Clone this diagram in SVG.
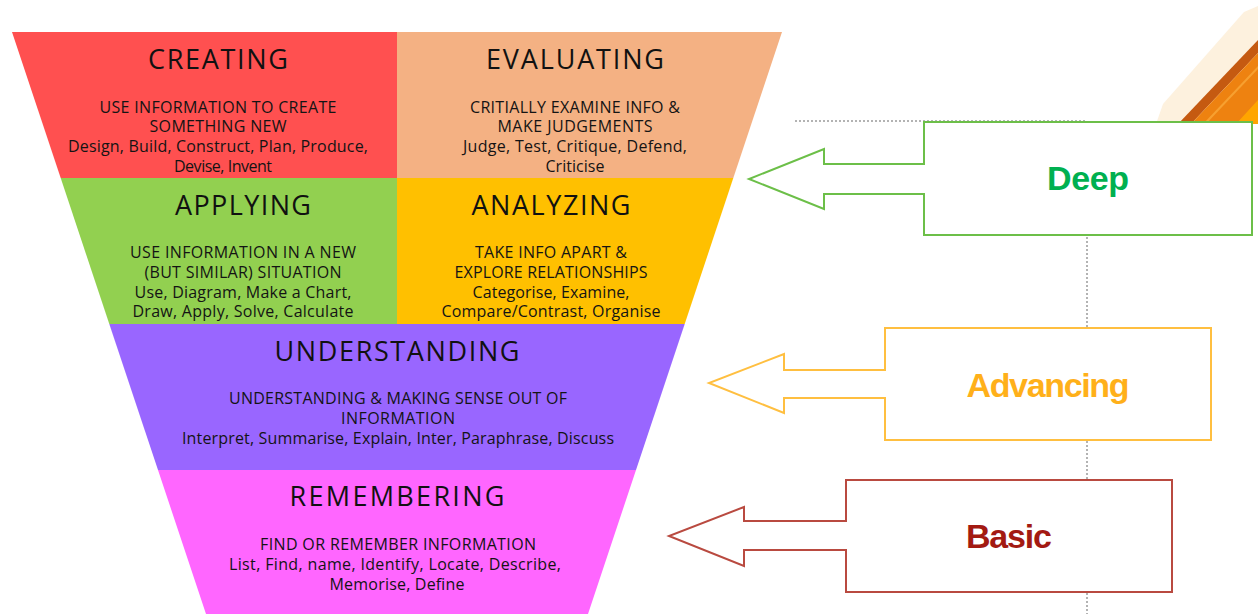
<svg xmlns="http://www.w3.org/2000/svg" width="1258" height="614" viewBox="0 0 1258 614">
  <style>
    .title { font-family: "Open Sans", "Liberation Sans", Arial, sans-serif; font-size: 27px; fill: #111111; text-anchor: middle; }
    .body { font-family: "Open Sans", "Liberation Sans", Arial, sans-serif; font-size: 16px; fill: #141414; text-anchor: middle; }
    .level { font-family: "Liberation Sans", Arial, sans-serif; font-size: 34px; font-weight: bold; text-anchor: middle; }
    .guide { fill: none; stroke: #9a9a9a; stroke-width: 1.5; stroke-dasharray: 2 2; }
    .callout { fill: #ffffff; stroke-width: 2; stroke-linejoin: miter; }
  </style>

  <rect width="1258" height="614" fill="#ffffff"/>

  <!-- pencil ornament, top right corner -->
  <g id="pencil">
    <polygon points="1156,124 1163,104 1244,12 1258,6 1258,40 1180,124" fill="#FDF1DE"/>
    <polygon points="1178,124 1258,40 1258,53 1191,124" fill="#C55A11"/>
    <polygon points="1191,124 1258,53 1258,124" fill="#EE8210"/>
    <polygon points="1203,124 1258,66 1258,69 1206,124" fill="#F7A030"/>
    <polygon points="1236,124 1258,100 1258,124" fill="#FFA500"/>
  </g>

  <!-- dotted guide lines -->
  <g id="connectors">
    <path class="guide" d="M795,121 H1087 V614"/>
  </g>

  <!-- funnel levels -->
  <g id="creating">
    <polygon points="12,32 397,32 397,178 60.7,178" fill="#FF5050"/>
    <text class="title" x="218" y="68.5" textLength="140">CREATING</text>
    <text class="body" x="218" y="112.5" textLength="237">USE INFORMATION TO CREATE</text>
    <text class="body" x="218" y="132" textLength="137">SOMETHING NEW</text>
    <text class="body" x="218" y="152" textLength="300">Design, Build, Construct, Plan, Produce,</text>
    <text class="body" x="223" y="171.5" textLength="98">Devise, Invent</text>
  </g>

  <g id="evaluating">
    <polygon points="397,32 782,32 733.3,178 397,178" fill="#F4B183"/>
    <text class="title" x="575" y="68.5" textLength="178">EVALUATING</text>
    <text class="body" x="575" y="112.5" textLength="210">CRITIALLY EXAMINE INFO &amp;</text>
    <text class="body" x="575" y="132" textLength="155">MAKE JUDGEMENTS</text>
    <text class="body" x="575" y="152" textLength="224">Judge, Test, Critique, Defend,</text>
    <text class="body" x="575" y="171.5" textLength="59">Criticise</text>
  </g>

  <g id="applying">
    <polygon points="60.7,178 397,178 397,324 109.3,324" fill="#92D050"/>
    <text class="title" x="243" y="214.5" textLength="136">APPLYING</text>
    <text class="body" x="243" y="258" textLength="226">USE INFORMATION IN A NEW</text>
    <text class="body" x="243" y="277.5" textLength="197">(BUT SIMILAR) SITUATION</text>
    <text class="body" x="243" y="297.5" textLength="217">Use, Diagram, Make a Chart,</text>
    <text class="body" x="243" y="317" textLength="221">Draw, Apply, Solve, Calculate</text>
  </g>

  <g id="analyzing">
    <polygon points="397,178 733.3,178 684.7,324 397,324" fill="#FFC000"/>
    <text class="title" x="551" y="214.5" textLength="159">ANALYZING</text>
    <text class="body" x="551" y="258" textLength="152">TAKE INFO APART &amp;</text>
    <text class="body" x="551" y="277.5" textLength="193">EXPLORE RELATIONSHIPS</text>
    <text class="body" x="551" y="297.5" textLength="157">Categorise, Examine,</text>
    <text class="body" x="551" y="317" textLength="219">Compare/Contrast, Organise</text>
  </g>

  <g id="understanding">
    <polygon points="109.3,324 684.7,324 636,470 158,470" fill="#9966FF"/>
    <text class="title" x="397" y="361" textLength="245">UNDERSTANDING</text>
    <text class="body" x="398" y="404" textLength="338">UNDERSTANDING &amp; MAKING SENSE OUT OF</text>
    <text class="body" x="398" y="423.5" textLength="114">INFORMATION</text>
    <text class="body" x="398" y="444" textLength="432">Interpret, Summarise, Explain, Inter, Paraphrase, Discuss</text>
  </g>

  <g id="remembering">
    <polygon points="158,470 636,470 588,614 206,614" fill="#FF66FF"/>
    <text class="title" x="397" y="506" textLength="215">REMEMBERING</text>
    <text class="body" x="398" y="550" textLength="276">FIND OR REMEMBER INFORMATION</text>
    <text class="body" x="395" y="570" textLength="332">List, Find, name, Identify, Locate, Describe,</text>
    <text class="body" x="397" y="590" textLength="135">Memorise, Define</text>
  </g>

  <!-- depth callouts pointing back at the funnel -->
  <g id="deep">
    <path class="callout" stroke="#6CBF48" d="M924,122 H1252 V235 H924 V194 H824 V209 L749,179 L824,149 V164 H924 Z"/>
    <text class="level" x="1088" y="190" fill="#00B050" textLength="82">Deep</text>
  </g>

  <g id="advancing">
    <path class="callout" stroke="#FFBF40" d="M885,328 H1211 V440 H885 V398 H784 V413 L709,383 L784,354 V370 H885 Z"/>
    <text class="level" x="1048" y="396.5" fill="#FFB01A" textLength="163">Advancing</text>
  </g>

  <g id="basic">
    <path class="callout" stroke="#B94A40" d="M846,480 H1172 V592 H846 V550 H744 V566 L669,536 L744,507 V521 H846 Z"/>
    <text class="level" x="1009" y="548" fill="#A31A12" textLength="86">Basic</text>
  </g>
</svg>
